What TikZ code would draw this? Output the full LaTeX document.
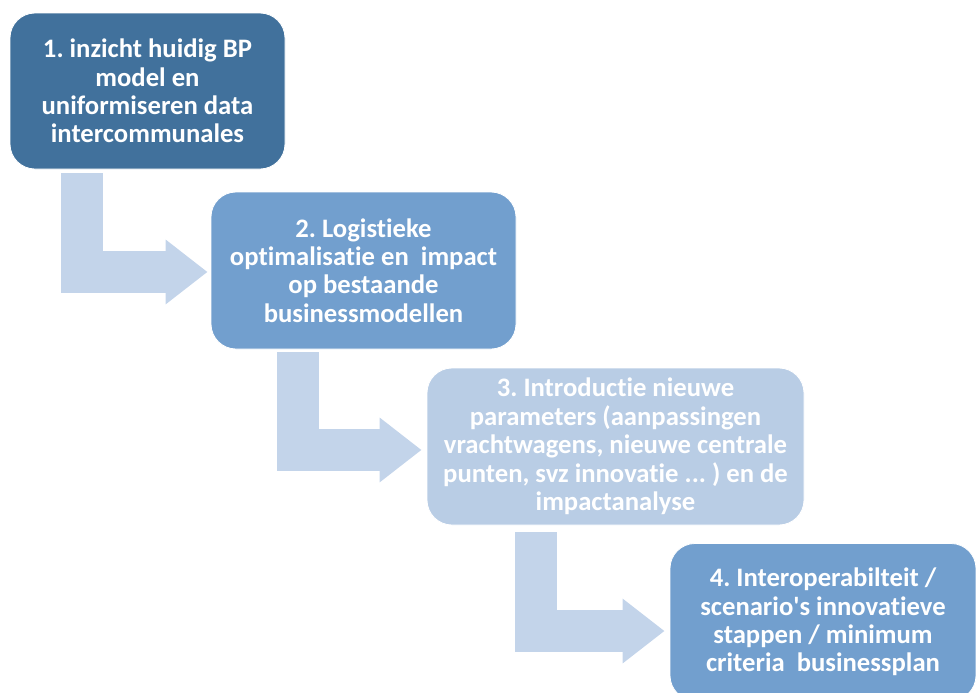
\documentclass[tikz,border=0pt]{standalone}
\usepackage{fontspec}
\setmainfont{Carlito}[Ligatures={NoCommon}]
\usetikzlibrary{arrows.meta}
\frenchspacing

\definecolor{stepdark}{RGB}{65,113,156}
\definecolor{stepmid}{RGB}{114,159,206}
\definecolor{steplight}{RGB}{185,205,229}
\definecolor{flowfill}{RGB}{195,212,234}

\tikzset{
  stepbox/.style={rounded corners=18.75pt, draw=white, line width=0.6pt, text=white,
    font=\bfseries\fontsize{20}{21.3}\selectfont, align=center, inner sep=0pt},
  flow/.style={draw=flowfill, line width=31.5pt, line join=miter,
    -{Triangle[length=31.5pt,width=46.5pt]}}
}

\begin{document}
\begin{tikzpicture}[x=0.75pt,y=-0.75pt]
    \useasboundingbox (0,0) rectangle (976,693);
    \clip (0,0) rectangle (976,693);

    \node[stepbox, fill=stepdark, minimum width=206.25pt, minimum height=117pt] (b1) at (147.5,91)
        {1. inzicht huidig BP\\model en\\uniformiseren data\\intercommunales};
    \node[stepbox, fill=stepmid, minimum width=228.75pt, minimum height=117.75pt] (b2) at (363.5,270.5)
        {2. Logistieke\\optimalisatie en \ impact\\op bestaande\\businessmodellen};
    \node[stepbox, fill=steplight, minimum width=282.75pt, minimum height=117.75pt] (b3) at (615.5,446.5)
        {3. Introductie nieuwe\\parameters (aanpassingen\\vrachtwagens, nieuwe centrale\\punten, svz innovatie ... ) en de\\impactanalyse};
    \node[stepbox, fill=stepmid, minimum width=229.5pt, minimum height=117.75pt] (b4) at (823,622)
        {4. Interoperabilteit /\\scenario\textquotesingle s innovatieve\\stappen / minimum\\criteria \ businessplan};

    \draw[flow] ([xshift=54.4pt,yshift=-3pt]b1.south west) |- ([xshift=-2.25pt,yshift=-1.1pt]b2.west);
    \draw[flow] ([xshift=65.25pt,yshift=-2.25pt]b2.south west) |- ([xshift=-3.75pt,yshift=-2.6pt]b3.west);
    \draw[flow] ([xshift=81.75pt,yshift=-5.25pt]b3.south west) |- ([xshift=-3.75pt,yshift=-6.75pt]b4.west);

\end{tikzpicture}
\end{document}
